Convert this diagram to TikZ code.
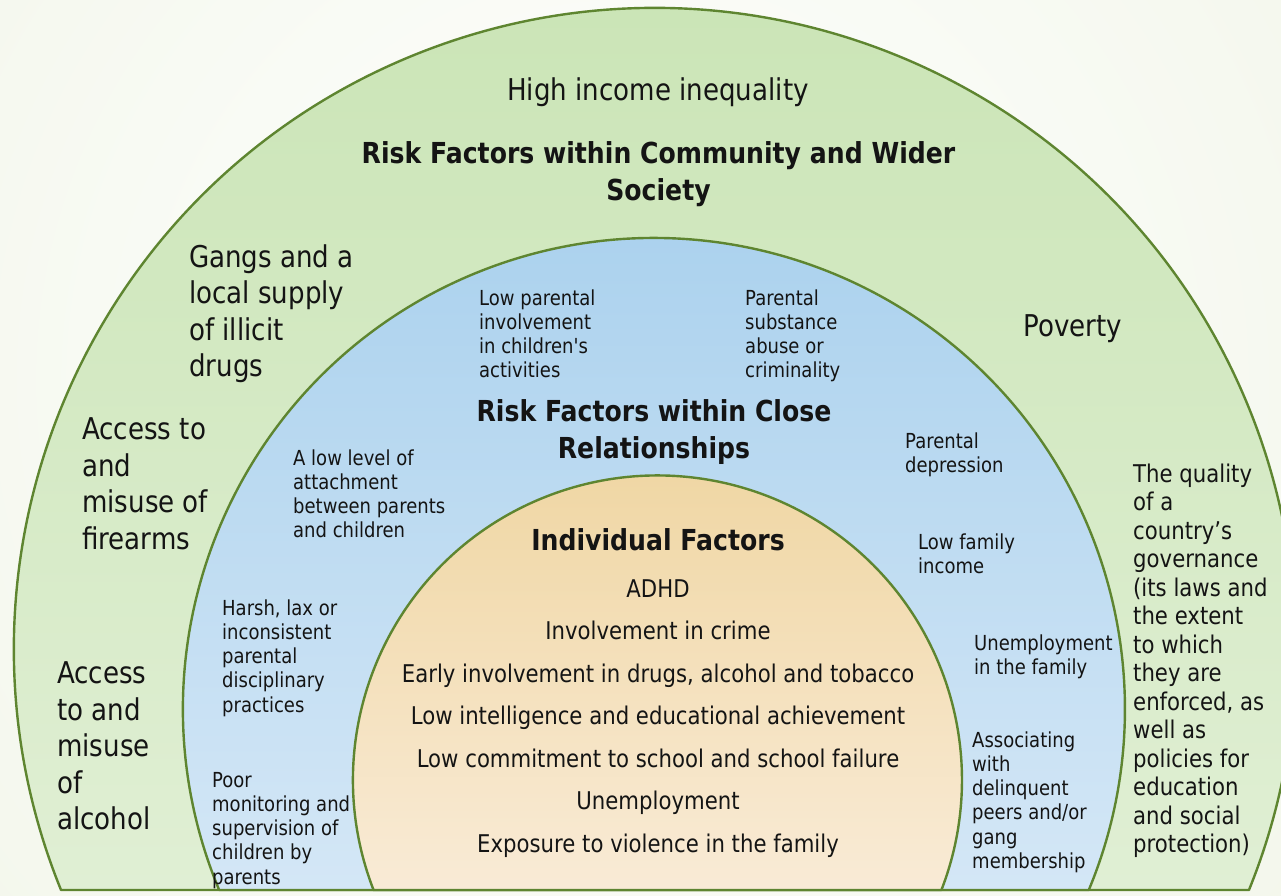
\documentclass[tikz,border=0pt]{standalone}
\usepackage{fontspec}
\newfontfamily\tah{DejaVu Sans}[FakeStretch=0.87]
\definecolor{bgout}{RGB}{232,239,217}
\definecolor{edge}{RGB}{94,133,48}
\definecolor{gtop}{RGB}{201,228,180}
\definecolor{gbot}{RGB}{224,239,212}
\definecolor{btop}{RGB}{168,208,237}
\definecolor{bbot}{RGB}{212,231,246}
\definecolor{otop}{RGB}{239,213,160}
\definecolor{obot}{RGB}{249,235,214}
\definecolor{ink}{RGB}{20,20,20}
\tikzset{
  ring/.style={draw=edge, line width=2.4pt, line join=round},
  big/.style={font=\tah\fontsize{30}{36.5}\selectfont, text=ink, inner sep=0pt},
  med/.style={font=\tah\fontsize{24.4}{28.5}\selectfont, text=ink, inner sep=0pt},
  sml/.style={font=\tah\fontsize{20.7}{24.3}\selectfont, text=ink, inner sep=0pt},
  ttl/.style={font=\tah\bfseries\fontsize{28.9}{36.5}\selectfont, text=ink, inner sep=0pt, align=center, anchor=base},
  lblock/.style={align=left, anchor=base west},
  citem/.style={med, anchor=base},
}
\begin{document}
\begin{tikzpicture}[x=1pt,y=-1pt]
\useasboundingbox (0,0) rectangle (1281,895);
\begin{scope}
\clip (0,0) rectangle (1281,895);
\fill[bgout] (0,0) rectangle (1281,895);
\shade[inner color=white, outer color=bgout] (620,380) circle (1700);
% outer green ring
\path[ring, top color=gtop, bottom color=gbot] (61.03,890) arc[start angle=157.915, end angle=382.085, radius=641] -- cycle;
% blue ring
\path[ring, top color=btop, bottom color=bbot] (219.16,890) arc[start angle=157.40, end angle=382.60, radius=471] -- cycle;
% orange core
\path[ring, top color=otop, bottom color=obot] (373.56,890) arc[start angle=158.82, end angle=381.18, radius=304.5] -- cycle;
\end{scope}

% ---- community level (base anchor = baseline of the last line)
\node[big, anchor=base] (hii) at (658,100) {High income inequality};
\node[ttl] (tcom) at (658.5,200) {Risk Factors within Community and Wider\\Society};
\node[big, lblock] (gangs) at (189,376.5) {Gangs and a\\local supply\\of illicit\\drugs};
\node[big, lblock] (pov) at (1023,336) {Poverty};
\node[big, lblock] (fire) at (82,549) {Access to\\and\\misuse of\\firearms};
\node[big, lblock] (alc) at (57,829.5) {Access\\to and\\misuse\\of\\alcohol};
\node[med, lblock] (gov) at (1133,852.5) {The quality\\of a\\country’s\\governance\\(its laws and\\the extent\\to which\\they are\\enforced, as\\well as\\policies for\\education\\and social\\protection)};

% ---- close relationships
\node[sml, lblock] (lpi) at (479,377.9) {Low parental\\involvement\\in children's\\activities};
\node[sml, lblock] (psa) at (745,377.9) {Parental\\substance\\abuse or\\criminality};
\node[ttl] (tclose) at (654,458) {Risk Factors within Close\\Relationships};
\node[sml, lblock] (att) at (293,537.9) {A low level of\\attachment\\between parents\\and children};
\node[sml, lblock] (pdep) at (905,472.3) {Parental\\depression};
\node[sml, lblock] (lfi) at (918,573.3) {Low family\\income};
\node[sml, lblock] (harsh) at (222,712.2) {Harsh, lax or\\inconsistent\\parental\\disciplinary\\practices};
\node[sml, lblock] (unf) at (974,674.3) {Unemployment\\in the family};
\node[sml, lblock] (poor) at (212,884.2) {Poor\\monitoring and\\supervision of\\children by\\parents};
\node[sml, lblock] (assoc) at (972,868.5) {Associating\\with\\delinquent\\peers and/or\\gang\\membership};

% ---- individual
\node[ttl] (tind) at (658,550) {Individual Factors};
\node[citem] (i1) at (658,597) {ADHD};
\node[citem] (i2) at (658,639) {Involvement in crime};
\node[citem] (i3) at (658,682) {Early involvement in drugs, alcohol and tobacco};
\node[citem] (i4) at (658,724) {Low intelligence and educational achievement};
\node[citem] (i5) at (658,767) {Low commitment to school and school failure};
\node[citem] (i6) at (658,809) {Unemployment};
\node[citem] (i7) at (658,852) {Exposure to violence in the family};
\end{tikzpicture}
\end{document}
